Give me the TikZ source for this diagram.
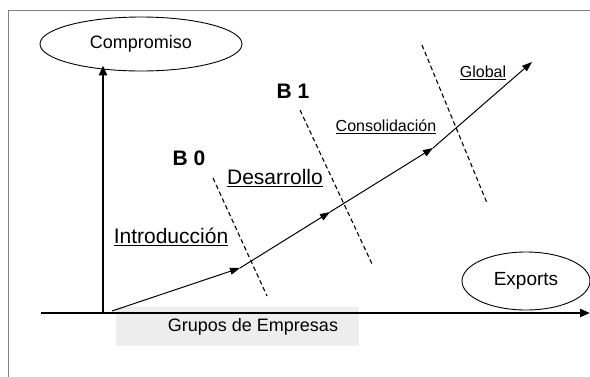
\documentclass[tikz,border=0pt]{standalone}
\usepackage{fontspec}
\setmainfont{Liberation Sans}
\usetikzlibrary{shapes,arrows.meta}

\begin{document}
\begin{tikzpicture}[x=1pt,y=-1pt,
    bubble/.style={draw,ellipse,inner sep=0pt,line width=0.9pt},
    stage/.style={inner sep=0pt,font=\fontsize{21}{21}\selectfont},
    smallstage/.style={inner sep=0pt,font=\fontsize{16}{16}\selectfont},
    limit/.style={line width=1.1pt,dash pattern=on 4.5pt off 3pt},
    growth/.style={line width=1pt,-{Triangle[length=10pt,width=7pt]}},
    axis/.style={line width=2.4pt,-{Triangle[length=10pt,width=8pt]}}]
  \useasboundingbox (0,0) rectangle (590,376);
  % the frame
  \draw[gray,line width=1pt] (8,380) -- (8,10) -- (594,10);

  %% the boxes
  \node[bubble,minimum width=202pt,minimum height=54pt,font=\fontsize{18}{18}\selectfont] (compromiso) at (141,44) {Compromiso};
  \node[bubble,minimum width=128pt,minimum height=58pt,font=\fontsize{19}{19}\selectfont] (exports) at (526,281) {Exports};
  \fill[black!7] (116,307) rectangle (359,346);
  \node[inner sep=0pt,font=\fontsize{18}{18}\selectfont] (grupos) at (253,327) {Grupos de Empresas};

  %% the axes
  \coordinate (origin) at (103,313);
  \coordinate (xstart) at (41,313);
  \coordinate (xend) at (590,313);
  \draw[axis] (xstart) -- (xend);
  \draw[axis,shorten >=-6pt] (origin) -- (origin |- compromiso.south);

  %% the borders between stages
  \coordinate (b0top) at (213,178);
  \coordinate (b0bot) at (267,296);
  \coordinate (b1top) at (300,110);
  \coordinate (b1bot) at (373,266);
  \coordinate (b2top) at (422,45);
  \coordinate (b2bot) at (487,203);
  \draw[limit] (b0top) -- (b0bot);
  \draw[limit] (b1top) -- (b1bot);
  \draw[limit] (b2top) -- (b2bot);

  %% the growth path
  \coordinate (p0) at (112,311);
  \coordinate (p1) at (240,268);
  \coordinate (p2) at (330,212);
  \coordinate (p3) at (433,148);
  \coordinate (p4) at (532,62);
  \draw[growth] (p0) -- (p1);
  \draw[growth] (p1) -- (p2);
  \draw[growth] (p2) -- (p3);
  \draw[growth] (p3) -- (p4);

  %% the labels
  \node[stage,font=\fontsize{21}{21}\selectfont\bfseries] (bzero) at (189,158) {B 0};
  \node[stage,font=\fontsize{21}{21}\selectfont\bfseries] (bone) at (293,91) {B 1};
  \node[stage] (intro) at (171,237) {\underline{Introducción}};
  \node[stage] (desarrollo) at (275,178) {\underline{Desarrollo}};
  \node[smallstage] (consol) at (386,127) {\underline{Consolidación}};
  \node[smallstage] (global) at (483,73) {\underline{Global}};
\end{tikzpicture}
\end{document}
